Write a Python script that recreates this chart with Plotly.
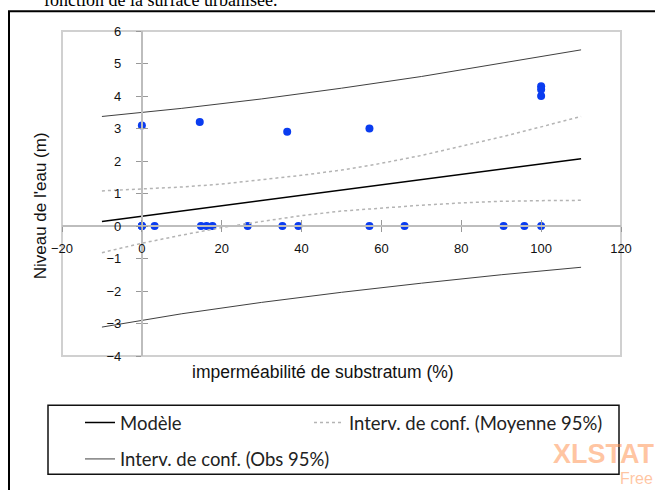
import plotly.graph_objects as go

# ---- data ----
obs_x = [0, 0, 0, 3.2, 14.8, 16.2, 17.7, 26.5, 35.2, 39.2, 57, 65.8, 90.6, 95.8, 100,
         0, 14.5, 36.4, 57, 100, 100, 100]
obs_y = [0, 0, 0, 0, 0, 0, 0, 0, 0, 0, 0, 0, 0, 0, 0,
         3.09, 3.2, 2.9, 3.0, 4.3, 4.2, 4.0]

model_x = [-10, 110]
model_y = [0.14, 2.07]

ci_x = [-10, 0, 10, 20, 30, 40, 50, 60, 70, 80, 90, 100, 110]
mean_up = [1.08, 1.13, 1.20, 1.29, 1.42, 1.56, 1.72, 1.93, 2.17, 2.45, 2.74, 3.05, 3.37]
mean_lo = [-0.82, -0.53, -0.28, -0.05, 0.14, 0.32, 0.46, 0.56, 0.64, 0.71, 0.76, 0.78, 0.79]

obs_ci_x = [-10, 10, 30, 50, 70, 90, 110]
obs_up = [3.37, 3.62, 3.91, 4.24, 4.60, 5.00, 5.42]
obs_lo = [-3.11, -2.70, -2.35, -2.04, -1.76, -1.50, -1.27]

x_ticks = [-20, 0, 20, 40, 60, 80, 100, 120]
y_ticks = [-4, -3, -2, -1, 0, 1, 2, 3, 4, 5, 6]

# ---- geometry helpers (plot area pixels) ----
W, H = 655, 490
L, R, T, B = 62, 34, 31, 129
PW, PH = W - L - R, H - T - B


def px(xp):
    return (xp - L) / PW


def py(yp):
    return (H - B - yp) / PH


fig = go.Figure()

fig.add_trace(go.Scatter(x=obs_x, y=obs_y, mode="markers",
                         marker=dict(color="#0a3cf0", size=8), showlegend=False))
fig.add_trace(go.Scatter(x=model_x, y=model_y, mode="lines", name="Modèle",
                         line=dict(color="#000000", width=1.5), legend="legend"))
fig.add_trace(go.Scatter(x=ci_x, y=mean_up, mode="lines", name="Interv. de conf. (Moyenne 95%)",
                         line=dict(color="#b4b4b4", width=1.5, dash="dot"), legend="legend2"))
fig.add_trace(go.Scatter(x=ci_x, y=mean_lo, mode="lines", showlegend=False,
                         line=dict(color="#b4b4b4", width=1.5, dash="dot")))
fig.add_trace(go.Scatter(x=obs_ci_x, y=obs_up, mode="lines", name="Interv. de conf. (Obs 95%)",
                         line=dict(color="#404040", width=1), legend="legend3"))
fig.add_trace(go.Scatter(x=obs_ci_x, y=obs_lo, mode="lines", showlegend=False,
                         line=dict(color="#404040", width=1)))

tickfont = dict(family="Liberation Sans, Arial, sans-serif", size=13, color="#111")
axcommon = dict(showgrid=False, zeroline=False, showline=True, linecolor="#bdbdbd",
                linewidth=2, tickcolor="#999", tickwidth=1, ticklen=5)
legfont = dict(family="Lato, sans-serif", size=18.5, color="#222")

fig.update_layout(
    width=W, height=H,
    margin=dict(l=L, r=R, t=T, b=B),
    paper_bgcolor="white", plot_bgcolor="white",
    xaxis=dict(range=[-20, 120], tickvals=x_ticks, anchor="free", position=0.4,
               ticks="outside", tickfont=tickfont, ticklabelstandoff=5, **axcommon),
    yaxis=dict(range=[-4, 6], tickvals=y_ticks, anchor="free", position=20 / 140,
               ticks="outside", tickfont=tickfont, ticklabelstandoff=12, **axcommon),
    xaxis2=dict(range=[-20, 120], tickvals=x_ticks, overlaying="x", anchor="free",
                position=0.4, ticks="inside", showticklabels=False, **axcommon),
    yaxis2=dict(range=[-4, 6], tickvals=y_ticks, overlaying="y", anchor="free",
                position=20 / 140, ticks="inside", showticklabels=False, **axcommon),
    showlegend=True,
    legend=dict(x=px(80), y=py(429), xanchor="left", yanchor="middle",
                font=legfont, bgcolor="rgba(0,0,0,0)"),
    legend2=dict(x=px(309), y=py(429), xanchor="left", yanchor="middle",
                 font=legfont, bgcolor="rgba(0,0,0,0)"),
    legend3=dict(x=px(80), y=py(466), xanchor="left", yanchor="middle",
                 font=legfont, bgcolor="rgba(0,0,0,0)"),
)

# dummy trace on overlay axes so they render
fig.add_trace(go.Scatter(x=[None], y=[None], xaxis="x2", yaxis="y2", showlegend=False))

shapes = [
    # plot area border
    dict(type="rect", xref="paper", yref="paper", x0=0, x1=1, y0=0, y1=1,
         line=dict(color="#d0d0d0", width=2), layer="below"),
    # outer frame
    dict(type="rect", xref="paper", yref="paper", x0=px(9), x1=px(680), y0=py(520), y1=py(11),
         line=dict(color="#000000", width=2)),
    # legend box
    dict(type="rect", xref="paper", yref="paper", x0=px(48), x1=px(619), y0=py(481), y1=py(411),
         line=dict(color="#111111", width=1.5)),
]
fig.update_layout(shapes=shapes)

annotations = [
    dict(text="Niveau de l'eau (m)", xref="paper", yref="paper", x=px(40), y=py(209),
         textangle=-90, showarrow=False, xanchor="center", yanchor="middle",
         font=dict(family="Liberation Sans, Arial, sans-serif", size=17, color="#111")),
    dict(text="imperméabilité de substratum (%)", xref="paper", yref="paper", x=px(323), y=py(377),
         showarrow=False, xanchor="center", yanchor="middle",
         font=dict(family="Liberation Sans, Arial, sans-serif", size=17.5, color="#111")),
    dict(text="fonction de la surface urbanisée.", xref="paper", yref="paper", x=px(42), y=py(0),
         showarrow=False, xanchor="left", yanchor="middle",
         font=dict(family="Liberation Serif, Times New Roman, serif", size=18, color="#000")),
    dict(text="<b>XLSTAT</b>", xref="paper", yref="paper", x=px(551), y=py(461),
         showarrow=False, xanchor="left", yanchor="middle",
         font=dict(family="Liberation Sans, Arial, sans-serif", size=27, color="rgba(255,140,70,0.5)")),
    dict(text="Free", xref="paper", yref="paper", x=px(618), y=py(485),
         showarrow=False, xanchor="left", yanchor="middle",
         font=dict(family="Liberation Sans, Arial, sans-serif", size=16, color="rgba(255,140,70,0.5)")),
]
fig.update_layout(annotations=annotations)

fig.write_html("out.html", config={"displayModeBar": False},
               post_script="document.body.style.margin='0';")
